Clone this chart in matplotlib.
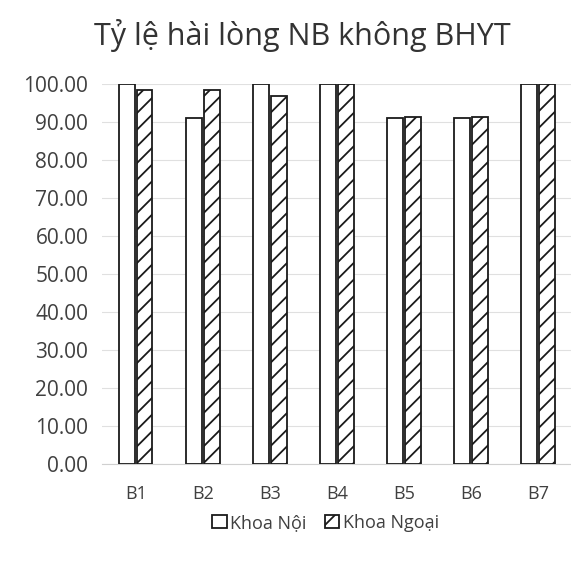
import numpy as np
import matplotlib
matplotlib.use('Agg')
import matplotlib.pyplot as plt

plt.rcParams['font.family'] = ['Open Sans', 'DejaVu Sans']
plt.rcParams['hatch.linewidth'] = 1.3

categories = ['B1', 'B2', 'B3', 'B4', 'B5', 'B6', 'B7']
khoa_noi = [100.0, 91.1, 100.0, 100.0, 91.1, 91.1, 100.0]
khoa_ngoai = [98.4, 98.4, 96.8, 100.0, 91.3, 91.3, 100.0]
title = 'Tỷ lệ hài lòng NB không BHYT'
yticks = np.arange(0, 101, 10)

fig = plt.figure(figsize=(5.71, 5.61), dpi=100)
ax = fig.add_axes([0.179, 0.173, 0.822, 0.677])

x = np.arange(len(categories))
w = 0.235
gap = 0.03
ax.bar(x - (w + gap) / 2, khoa_noi, w, facecolor='white', edgecolor='#1a1a1a',
       linewidth=1.3, label='Khoa Nội', zorder=3)
ax.bar(x + (w + gap) / 2, khoa_ngoai, w, facecolor='white', edgecolor='#1a1a1a',
       linewidth=1.3, hatch='//', label='Khoa Ngoại', zorder=3)

ax.set_xlim(-0.5, len(categories) - 0.5)
ax.set_ylim(0, 100)
ax.set_yticks(yticks)
ax.set_yticklabels(['%.2f' % v for v in yticks], fontsize=15, color='#404040')
ax.set_xticks(x)
ax.set_xticklabels(categories, fontsize=13, color='#404040')
ax.tick_params(length=0, pad=10)
ax.tick_params(axis='x', pad=15)
ax.yaxis.grid(True, color='#e0e0e0', linewidth=0.8, zorder=0)
for s in ['top', 'right', 'left']:
    ax.spines[s].set_visible(False)
ax.spines['bottom'].set_color('#d0d0d0')

fig.text(0.53, 0.937, title, ha='center', va='center', fontsize=22,
         color='#333333')

leg = fig.legend(loc='center', bbox_to_anchor=(0.57, 0.068), ncol=2,
                 frameon=False, fontsize=13, handlelength=0.8,
                 handleheight=0.8, handletextpad=0.2, columnspacing=1.0)
for t in leg.get_texts():
    t.set_color('#404040')

fig.savefig('out.png', dpi=100, facecolor='white')
